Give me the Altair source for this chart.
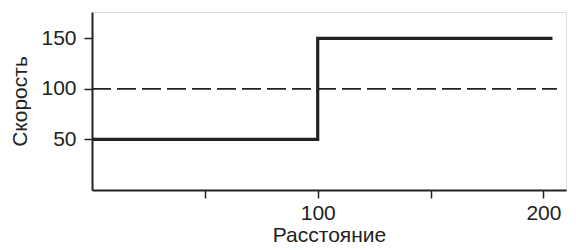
import altair as alt
import pandas as pd

step_x = [0, 100, 100, 204]
step_y = [50, 50, 150, 150]
ref_x = [0, 206]
ref_y = [100, 100]
x_ticks = [50, 100, 150, 200]
x_labeled = [100, 200]
y_ticks = [50, 100, 150]

step_df = pd.DataFrame({"x": step_x, "y": step_y, "o": range(len(step_x))})
ref_df = pd.DataFrame({"x": ref_x, "y": ref_y})

FONT = "Liberation Sans"
INK = "#222222"
FS = 21

xscale = alt.Scale(domain=[0, 210], nice=False, zero=False)
yscale = alt.Scale(domain=[0, 176], nice=False, zero=False)

label_expr = "indexof([" + ",".join(str(v) for v in x_labeled) + "], datum.value) >= 0 ? datum.label : ''"

xaxis = alt.Axis(
    title="Расстояние", values=x_ticks, labelExpr=label_expr, grid=False,
    domainColor=INK, domainWidth=2, tickColor=INK, tickWidth=1.5, tickSize=8,
    labelFont=FONT, labelFontSize=FS, labelColor=INK, labelPadding=4,
    titleFont=FONT, titleFontSize=FS, titleFontWeight="normal", titleColor=INK, titlePadding=1,
)
yaxis = alt.Axis(
    title="Скорость", values=y_ticks, grid=False,
    domainColor=INK, domainWidth=2, tickColor=INK, tickWidth=1.5, tickSize=8,
    labelFont=FONT, labelFontSize=FS, labelColor=INK, labelPadding=8,
    titleFont=FONT, titleFontSize=FS, titleFontWeight="normal", titleColor=INK, titlePadding=10,
)

step = alt.Chart(step_df).mark_line(color=INK, strokeWidth=3.2, strokeJoin="miter", strokeCap="butt").encode(
    x=alt.X("x:Q", scale=xscale, axis=xaxis),
    y=alt.Y("y:Q", scale=yscale, axis=yaxis),
    order="o:O",
)
ref = alt.Chart(ref_df).mark_line(color=INK, strokeWidth=1.8, strokeDash=[19, 6]).encode(
    x=alt.X("x:Q", scale=xscale),
    y=alt.Y("y:Q", scale=yscale),
)

chart = alt.layer(ref, step).properties(
    width=474, height=178,
    autosize=alt.AutoSizeParams(type="none"),
    padding={"left": 84, "top": 4, "right": 2, "bottom": 58},
).configure_view(stroke=None).configure(background="white")

chart.save("out.html", embed_options={"renderer": "svg", "actions": False})
